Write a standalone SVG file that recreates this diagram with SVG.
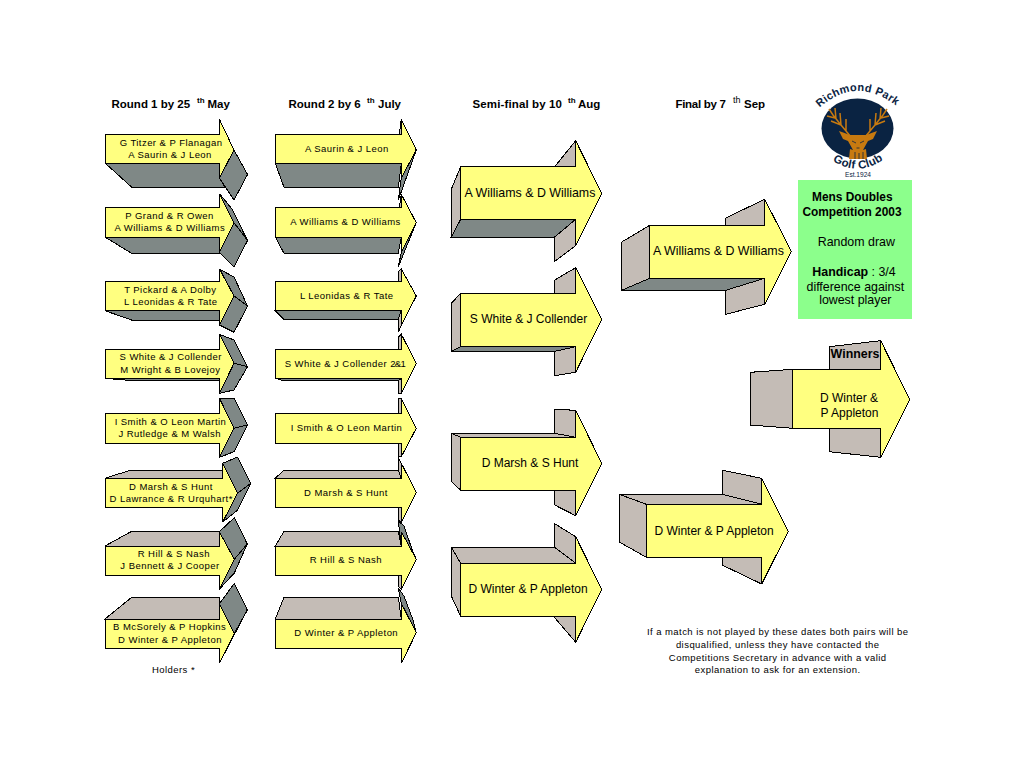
<svg xmlns="http://www.w3.org/2000/svg" width="1023" height="768" viewBox="0 0 1023 768">
<style>
text{font-family:"Liberation Sans",Arial,sans-serif;fill:#000}
.s{font-size:9.5px;letter-spacing:.45px;text-anchor:middle}
.l{font-size:12px;text-anchor:middle}
.w{font-size:12.4px}
.h{font-size:11.5px;font-weight:bold}
.u{font-size:8px}
.b{font-weight:bold}
polygon{stroke:#000;stroke-width:1;shape-rendering:crispEdges;stroke-linejoin:miter}
.f{fill:#ffff80}.g{fill:#7f8886}.t{fill:#c4bcb6}
.lg{font-weight:bold;fill:#0a2342}
.an{fill:none;stroke:#c77a10;stroke-width:1.5}
</style>
<rect width="1023" height="768" fill="#fff"/>
<g id="headings">
<text class="h" x="111.5" y="107.7">Round 1 by 25</text><text class="h u" x="197" y="103">th</text><text class="h" x="207.5" y="107.7">May</text>
<text class="h" x="288.5" y="107.7">Round 2 by 6</text><text class="h u" x="367" y="103">th</text><text class="h" x="378" y="107.7">July</text>
<text class="h" x="472.5" y="107.7" style="letter-spacing:.13px">Semi-final by 10</text><text class="h u" x="568" y="103">th</text><text class="h" x="578" y="107.7">Aug</text>
<text class="h" x="675.5" y="107.7" style="letter-spacing:-.3px">Final by 7</text><text class="u" x="733" y="103" style="font-size:9px">th</text><text class="h" x="744" y="107.7">Sep</text>
</g>
<g id="r1-1"><polygon class="g" points="105,163 131.5,187 225,187 219.5,178 219.5,163"/><polygon class="g" points="234,150 247.5,174.5 234,200 219.5,178"/><polygon class="f" points="105,134.5 219.5,134.5 219.5,119.5 234,150 219.5,178 219.5,163 105,163"/><text class="s" x="171" y="146">G Titzer &amp; P Flanagan</text><text class="s" x="170" y="157.7">A Saurin &amp; J Leon</text></g>
<g id="r1-2"><polygon class="g" points="105,237 131.5,253.3 219.5,253.3 219.5,237"/><polygon class="g" points="219.5,193.7 232,209 247.5,240.5 234,222.7"/><polygon class="g" points="234,222.7 247.5,240.5 234,267 219.5,252.3"/><polygon class="f" points="105,207.5 219.5,207.5 219.5,193.7 234,222.7 219.5,252.3 219.5,237 105,237"/><text class="s" x="169.5" y="219">P Grand &amp; R Owen</text><text class="s" x="169.8" y="231">A Williams &amp; D Williams</text></g>
<g id="r1-3"><polygon class="g" points="105,310.7 131.5,320 219.5,320 219.5,310.7"/><polygon class="g" points="220,269.5 234,277 247.5,306 234,296"/><polygon class="g" points="234,296 247.5,306 234,332.3 219.5,325"/><polygon class="f" points="105,281.7 219.5,281.7 219.5,269 234,296 219.5,325 219.5,310.7 105,310.7"/><text class="s" x="170.3" y="293">T Pickard &amp; A Dolby</text><text class="s" x="170.8" y="305">L Leonidas &amp; R Tate</text></g>
<g id="r1-4"><polygon class="g" points="105,378.3 125,380 219.5,380 219.5,378.3"/><polygon class="g" points="219.5,334.3 234,340 247.5,366.7 234,363.3"/><polygon class="g" points="234,363.3 247.5,366.7 234,390 219.5,393.3"/><polygon class="f" points="105,349.3 219.5,349.3 219.5,334.3 234,363.3 219.5,393.3 219.5,378.3 105,378.3"/><text class="s" x="170.7" y="360">S White &amp; J Collender</text><text class="s" x="170.3" y="373">M Wright &amp; B Lovejoy</text></g>
<g id="r1-5"><polygon class="g" points="219.5,398.3 234,398.3 247.5,425 234,428.3"/><polygon class="g" points="234,428.3 247.5,425 234,451.7 219.5,457.3"/><polygon class="f" points="105,413.3 219.5,413.3 219.5,398.3 234,428.3 219.5,457.3 219.5,443.3 105,443.3"/><text class="s" x="170.5" y="425">I Smith &amp; O Leon Martin</text><text class="s" x="169.7" y="437">J Rutledge &amp; M Walsh</text></g>
<g id="r1-6"><polygon class="t" points="105,478.3 131,470 222.7,470 222.7,478.3"/><polygon class="g" points="222.7,463.3 237.7,457 250.7,483.3 237.7,493"/><polygon class="g" points="237.7,493 250.7,483.3 237.7,510 222.7,522"/><polygon class="f" points="105,478.3 222.7,478.3 222.7,463.3 237.7,493 222.7,522 222.7,507.3 105,507.3"/><text class="s" x="171" y="490">D Marsh &amp; S Hunt</text><text class="s" x="171.2" y="502">D Lawrance &amp; R Urquhart*</text></g>
<g id="r1-7"><polygon class="t" points="105,546 131.7,531.3 219.3,531.3 219.3,546"/><polygon class="g" points="219.3,531.7 234.3,517.7 247.3,544 234.3,559.3"/><polygon class="g" points="234.3,559.3 247.3,544 234.3,573 219.3,589.3"/><polygon class="f" points="105,546 219.3,546 219.3,531.7 234.3,559.3 219.3,589.3 219.3,575.7 105,575.7"/><text class="s" x="173.8" y="557">R Hill &amp; S Nash</text><text class="s" x="170" y="569">J Bennett &amp; J Cooper</text></g>
<g id="r1-8"><polygon class="t" points="105,619 131.7,597.3 219.3,597.3 219.3,619"/><polygon class="g" points="219.3,604 234.3,583.3 247.3,610 234.3,633.3"/><polygon class="g" points="234.3,633.3 247.3,610 219.3,663.3"/><polygon class="f" points="105,619 219.3,619 219.3,604 234.3,633.3 219.3,663.3 219.3,648.3 105,648.3"/><text class="s" x="169.7" y="630">B McSorely &amp; P Hopkins</text><text class="s" x="170" y="643">D Winter &amp; P Appleton</text></g>
<text id="holders" class="s" x="173.5" y="672.7">Holders *</text>
<g id="r2-1"><polygon class="g" points="275.3,163.3 284,187.3 398.3,187.3 401.3,163.3"/><polygon class="g" points="416.3,150 398.3,200 401.3,178"/><polygon class="t" points="401.3,119.3 399.3,134.3 401.3,134.3"/><polygon class="f" points="275.3,134.3 401.3,134.3 401.3,119.3 416.3,150 401.3,178 401.3,163.3 275.3,163.3"/><text class="s" x="346.8" y="152">A Saurin &amp; J Leon</text></g>
<g id="r2-2"><polygon class="g" points="275.3,237 284,253.3 398.3,253.3 401.3,237"/><polygon class="g" points="416.3,222.7 398.3,266.7 401.3,252.3"/><polygon class="t" points="401.3,194.3 399.3,207.3 401.3,207.3"/><polygon class="f" points="275.3,207.3 401.3,207.3 401.3,194.3 416.3,222.7 401.3,252.3 401.3,237 275.3,237"/><text class="s" x="345.5" y="225">A Williams &amp; D Williams</text></g>
<g id="r2-3"><polygon class="g" points="275.3,310.7 284,319.3 398.3,319.3 401.3,310.7"/><polygon class="t" points="401.3,310.7 398.3,319.3 398.3,332.3 401.3,325"/><polygon class="t" points="401.3,269 398.3,272 398.3,281.7 401.3,281.7"/><polygon class="f" points="275.3,281.7 401.3,281.7 401.3,269 416.3,296 401.3,325 401.3,310.7 275.3,310.7"/><text class="s" x="346.7" y="299">L Leonidas &amp; R Tate</text></g>
<g id="r2-4"><polygon class="g" points="275.3,378.3 283,380.5 398.3,380.5 401.3,378.3"/><polygon class="t" points="401.3,378.3 398.3,380.5 398.3,393.3 401.3,393.3"/><polygon class="t" points="398.3,337 401.3,334.3 401.3,349.3 398.3,349.3"/><polygon class="f" points="275.3,349.3 401.3,349.3 401.3,334.3 416.3,363.3 401.3,393.3 401.3,378.3 275.3,378.3"/><text class="s" x="345" y="367">S White &amp; J Collender <tspan style="letter-spacing:-.6px">2&amp;1</tspan></text></g>
<g id="r2-5"><polygon class="t" points="398.3,398.3 401.3,398.3 401.3,413.3 398.3,413.3"/><polygon class="t" points="398.3,443.3 401.3,443.3 401.3,456.7 398.3,456.7"/><polygon class="f" points="275.3,413.3 401.3,413.3 401.3,398.3 416.3,428.3 401.3,456.7 401.3,443.3 275.3,443.3"/><text class="s" x="346.5" y="431">I Smith &amp; O Leon Martin</text></g>
<g id="r2-6"><polygon class="t" points="275.3,478.3 284,470 398.3,470 401.3,478.3"/><polygon class="t" points="398.3,458 401.3,463.3 401.3,478.3 398.3,470"/><polygon class="t" points="398.3,507.3 401.3,507.3 401.3,522.3 398.3,520"/><polygon class="f" points="275.3,478.3 401.3,478.3 401.3,463.3 416.3,492.3 401.3,522.3 401.3,507.3 275.3,507.3"/><text class="s" x="346" y="496">D Marsh &amp; S Hunt</text></g>
<g id="r2-7"><polygon class="t" points="275.3,546 284,531.3 398.3,531.3 401.3,546"/><polygon class="g" points="398.3,521 404,526 413.3,553 416.3,559.3 401.3,546"/><polygon class="t" points="398.3,575.7 401.3,575.7 401.3,589.3 398.3,586"/><polygon class="f" points="275.3,546 401.3,546 401.3,531.7 416.3,559.3 401.3,589.3 401.3,575.7 275.3,575.7"/><text class="s" x="345.8" y="563">R Hill &amp; S Nash</text></g>
<g id="r2-8"><polygon class="t" points="275.3,619 284,597.3 398.3,597.3 401.3,619"/><polygon class="g" points="398.3,588.3 404,596 413,620 416.3,632.7 401.3,603.3"/><polygon class="f" points="275.3,619 401.3,619 401.3,603.3 416.3,632.7 401.3,663.3 401.3,648.3 275.3,648.3"/><text class="s" x="346.2" y="636">D Winter &amp; P Appleton</text></g>
<g id="sf-1"><polygon class="t" points="554.7,166.7 575.7,140.7 575.7,166.7"/><polygon class="t" points="451.3,189.3 460.7,166.7 460.7,219.3 451.3,237"/><polygon class="g" points="460.7,219.3 451.3,237 554.7,237 575.7,219.3"/><polygon class="t" points="554.7,237 575.7,219.3 575.7,245.7 554.7,261.3"/><polygon class="f" points="460.7,166.7 575.7,166.7 575.7,140.7 601.7,193.3 575.7,245.7 575.7,219.3 460.7,219.3"/><text class="l w" x="530" y="196.7">A Williams &amp; D Williams</text></g>
<g id="sf-2"><polygon class="t" points="554.7,293.3 554.7,280 575.7,267.7 575.7,293.3"/><polygon class="t" points="451.3,303.3 460.7,293.3 460.7,346.7 451.3,351.3"/><polygon class="g" points="460.7,346.7 451.3,351.3 554.7,351.3 575.7,346.7"/><polygon class="t" points="554.7,351.3 575.7,346.7 575.7,372.3 554.7,375.7"/><polygon class="f" points="460.7,293.3 575.7,293.3 575.7,267.7 601.7,319.3 575.7,372.3 575.7,346.7 460.7,346.7"/><text class="l" x="528.5" y="322.7">S White &amp; J Collender</text></g>
<g id="sf-3"><polygon class="t" points="554.7,433.3 554.7,409.3 575.7,410.3 575.7,437.3"/><polygon class="t" points="451.3,433.3 460.7,437.3 575.7,437.3 554.7,433.3"/><polygon class="t" points="451.3,433.3 460.7,437.3 460.7,490.3 451.3,481.3"/><polygon class="t" points="554.7,490.3 554.7,505 575.7,515.7 575.7,490.3"/><polygon class="f" points="460.7,437.3 575.7,437.3 575.7,410.3 601.7,463.3 575.7,515.7 575.7,490.3 460.7,490.3"/><text class="l" x="530" y="466.7">D Marsh &amp; S Hunt</text></g>
<g id="sf-4"><polygon class="t" points="554.7,547.3 554.7,523.7 575.7,536.7 575.7,563.3"/><polygon class="t" points="451.3,547.3 460.7,563.3 575.7,563.3 554.7,547.3"/><polygon class="t" points="451.3,547.3 460.7,563.3 460.7,616.3 451.3,596"/><polygon class="t" points="554.7,616.3 554.7,617.7 575.7,642.3 575.7,616.3"/><polygon class="f" points="460.7,563.3 575.7,563.3 575.7,536.7 601.7,589.3 575.7,642.3 575.7,616.3 460.7,616.3"/><text class="l" x="528" y="592.7">D Winter &amp; P Appleton</text></g>
<g id="final-1"><polygon class="t" points="725.7,225.3 725.7,218 764.7,199.3 764.7,225.3"/><polygon class="t" points="621.7,242 649.7,225.3 649.7,278.3 621.7,290.3"/><polygon class="g" points="649.7,278.3 621.7,290.3 725.7,290.3 764.7,278.3"/><polygon class="t" points="725.7,290.3 764.7,278.3 764.7,304.3 725.7,314.3"/><polygon class="f" points="649.7,225.3 764.7,225.3 764.7,199.3 791.3,251.3 764.7,304.3 764.7,278.3 649.7,278.3"/><text class="l w" x="718.5" y="255">A Williams &amp; D Williams</text></g>
<g id="final-2"><polygon class="t" points="722.7,494.3 722.7,470.3 761.7,478.3 761.7,504.3"/><polygon class="t" points="619.3,494.3 646.3,504.3 761.7,504.3 722.7,494.3"/><polygon class="t" points="619.3,494.3 646.3,504.3 646.3,557.3 619.3,542"/><polygon class="t" points="722.7,557.3 722.7,565.3 761.7,584 761.7,557.3"/><polygon class="f" points="646.3,504.3 761.7,504.3 761.7,478.3 788.3,531.3 761.7,584 761.7,557.3 646.3,557.3"/><text class="l" x="714" y="534.7">D Winter &amp; P Appleton</text></g>
<g id="winners"><polygon class="t" points="829.3,369.3 829.3,346.7 880.7,340.7 880.7,369.3"/><polygon class="t" points="750.3,372.3 792.7,369.3 792.7,428.3 750.3,425"/><polygon class="t" points="829.3,428.3 829.3,451.7 880.7,457.3 880.7,428.3"/><polygon class="f" points="792.7,369.3 880.7,369.3 880.7,340.7 909.7,399.3 880.7,457.3 880.7,428.3 792.7,428.3"/><text class="l b w" x="855" y="357.7">Winners</text><text class="l" x="849" y="401.7">D Winter &amp;</text><text class="l" x="849.5" y="416.7">P Appleton</text></g>
<g id="info"><rect x="798" y="180" width="114" height="139" fill="#8cff8c"/>
<text class="l b" style="font-size:11.9px" x="852.3" y="200.7">Mens Doubles</text><text class="l b" style="font-size:11.9px" x="852" y="215.7">Competition 2003</text><text class="l w" x="856.3" y="245.7">Random draw</text><text class="l w" x="854" y="275.7"><tspan class="b">Handicap</tspan> : 3/4</text><text class="l w" x="855.3" y="290.7">difference against</text><text class="l w" x="855.3" y="304.3">lowest player</text></g>
<g id="note"><text class="s" x="777.7" y="635">If a match is not played by these dates both pairs will be</text><text class="s" x="777.7" y="648">disqualified, unless they have contacted the</text><text class="s" x="777.7" y="660.7">Competitions Secretary in advance with a valid</text><text class="s" x="777.7" y="673.3">explanation to ask for an extension.</text></g>
<g id="logo">
<defs><path id="arcT" d="M816,111 Q856,72 900,109"/><path id="arcB" d="M832,160 Q858,178 884,159"/></defs>
<ellipse cx="857.5" cy="128.5" rx="36" ry="30" fill="#0a2342"/>
<path class="an" d="M851,137 L841,125 L833,115 L829,109 M841,125 L831,121 M835,118 L827,116 M846,131 L846,119 M841,125 L840,113 M836,119 L835,108"/>
<path class="an" d="M865,137 L875,125 L883,115 L887,109 M875,125 L885,121 M881,118 L889,116 M870,131 L870,119 M875,125 L876,113 M880,119 L881,108"/>
<path d="M839,131 L850,135 L866,135 L877,131 L873,139 L868,141 L863,150 L866,149 L867,159 L849,159 L850,149 L853,150 L848,141 L843,139 Z" fill="#c77a10"/>
<path d="M855,152 L855,159 M859,153 L859,159 M863,152 L863,159 M852,141 L856,143 M864,141 L860,143 M856.500,148 L859.500,148" fill="none" stroke="#0a2342" stroke-width=".8"/>
<text class="lg" style="font-size:11px;letter-spacing:.3px" text-anchor="middle"><textPath href="#arcT" startOffset="50%">Richmond Park</textPath></text>
<text class="lg" style="font-size:11.5px;letter-spacing:.3px" text-anchor="middle"><textPath href="#arcB" startOffset="50%">Golf Club</textPath></text>
<text x="858" y="176.700" text-anchor="middle" style="font-size:6.600px;fill:#0a2342">Est.1924</text>
</g>
</svg>
